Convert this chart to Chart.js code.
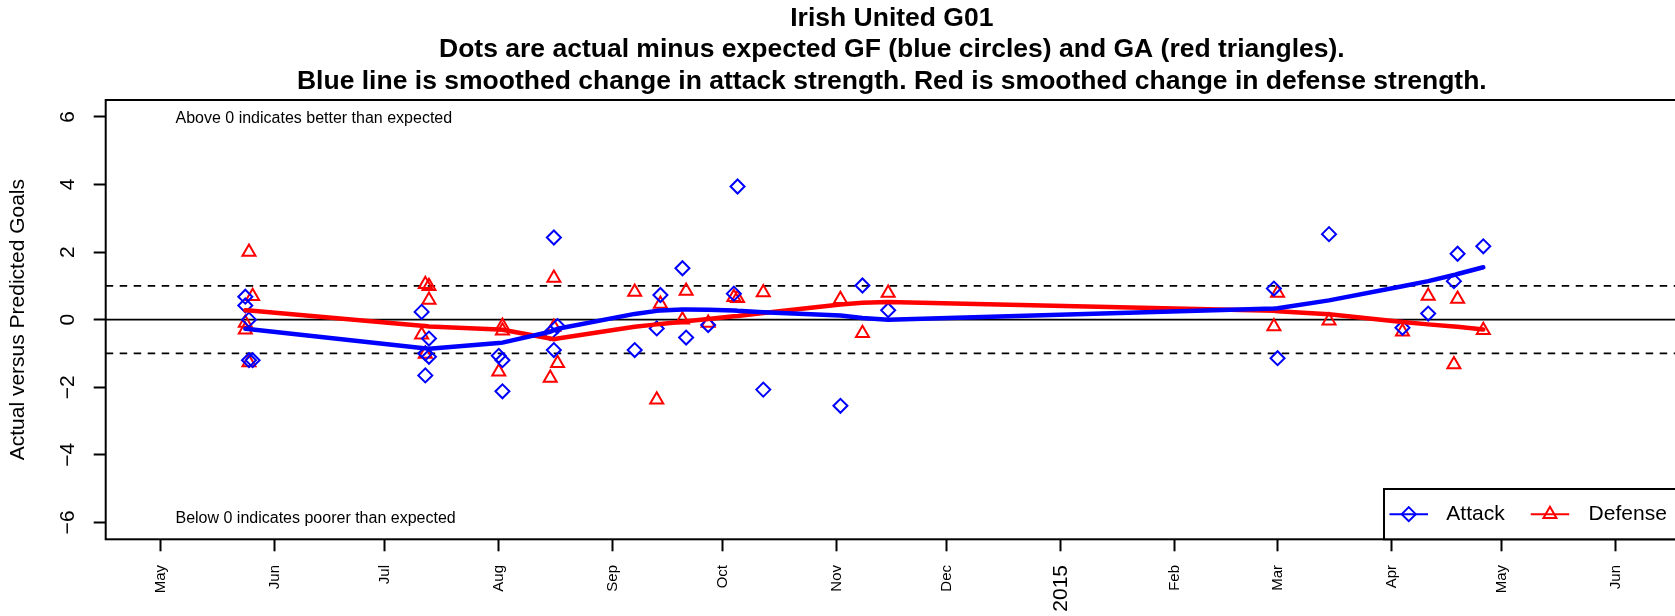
<!DOCTYPE html>
<html>
<head>
<meta charset="utf-8">
<title>Irish United G01</title>
<script src="https://cdn.jsdelivr.net/npm/chart.js@4.4.1/dist/chart.umd.min.js"></script>
<style>
  html, body { margin:0; padding:0; background:#fff; overflow:hidden; }
  #wrap { width:1690px; height:616px; }
</style>
</head>
<body>
<div id="wrap"><canvas id="chart" width="1690" height="616"></canvas></div>
<script>
const FONT = '"Liberation Sans", Arial, Helvetica, sans-serif';

const titleLines = [
  'Irish United G01',
  'Dots are actual minus expected GF (blue circles) and GA (red triangles).',
  'Blue line is smoothed change in attack strength. Red is smoothed change in defense strength.'
];

// one entry per game
const gameDates = [
  '2014-05-24','2014-05-24','2014-05-25','2014-05-25','2014-05-26',
  '2014-07-11','2014-07-12','2014-07-12','2014-07-13','2014-07-13',
  '2014-08-01','2014-08-02','2014-08-02',
  '2014-08-15','2014-08-16','2014-08-16','2014-08-17',
  '2014-09-07','2014-09-13','2014-09-14','2014-09-20','2014-09-21','2014-09-27',
  '2014-10-04','2014-10-05','2014-10-12',
  '2014-11-02','2014-11-08','2014-11-15',
  '2015-02-28','2015-03-01','2015-03-15',
  '2015-04-04','2015-04-11','2015-04-18','2015-04-19','2015-04-26'
];
const attackDiff = [
  0.68, 0.42, 0.00, -1.20, -1.20,
  0.23, -1.00, -1.65, -0.56, -1.10,
  -1.07, -1.20, -2.12,
  -0.40, 2.43, -0.90, -0.19,
  -0.90, -0.26, 0.73, 1.52, -0.53, -0.16,
  0.77, 3.94, -2.07,
  -2.55, 1.01, 0.28,
  0.92, -1.14, 2.53,
  -0.24, 0.18, 1.14, 1.95, 2.17
];
const defenseDiff = [
  -0.30, -0.10, 2.00, -1.27, 0.69,
  -0.45, 1.05, -1.02, 0.99, 0.58,
  -1.54, -0.19, -0.33,
  -1.73, 1.23, -0.22, -1.29,
  0.82, -2.37, 0.46, 0.00, 0.85, -0.10,
  0.66, 0.63, 0.80,
  0.60, -0.40, 0.79,
  -0.20, 0.79, -0.03,
  -0.36, 0.70, -1.33, 0.61, -0.31
];
const attackSmooth = [
  -0.27, -0.27, -0.28, -0.28, -0.29,
  -0.84, -0.85, -0.85, -0.86, -0.86,
  -0.69, -0.68, -0.68,
  -0.36, -0.31, -0.31, -0.27,
  0.17, 0.26, 0.27, 0.30, 0.30, 0.29,
  0.27, 0.26, 0.22,
  0.12, 0.05, 0.00,
  0.33, 0.34, 0.57,
  0.99, 1.14, 1.32, 1.35, 1.55
];
const defenseSmooth = [
  0.28, 0.28, 0.27, 0.27, 0.26,
  -0.18, -0.19, -0.19, -0.20, -0.20,
  -0.29, -0.30, -0.30,
  -0.56, -0.58, -0.58, -0.56,
  -0.21, -0.14, -0.13, -0.06, -0.05, 0.02,
  0.10, 0.11, 0.20,
  0.45, 0.50, 0.52,
  0.26, 0.25, 0.16,
  -0.07, -0.14, -0.20, -0.21, -0.29
];

const xLimits = ['2014-04-16', '2015-06-18'];
const monthTicks = [
  '2014-05-01','2014-06-01','2014-07-01','2014-08-01','2014-09-01','2014-10-01','2014-11-01',
  '2014-12-01','2015-01-01','2015-02-01','2015-03-01','2015-04-01','2015-05-01','2015-06-01'
];
const monthLabels = ['May','Jun','Jul','Aug','Sep','Oct','Nov','Dec','2015','Feb','Mar','Apr','May','Jun'];
const yTicks = [-6, -4, -2, 0, 2, 4, 6];
const refLines = [0, 1, -1];
const notes = [
  { text:'Above 0 indicates better than expected', date:'2014-05-05', y:5.94 },
  { text:'Below 0 indicates poorer than expected', date:'2014-05-05', y:-5.9 }
];

function dayOf(s){ const [y,m,d] = s.split('-').map(Number); return Date.UTC(y, m-1, d) / 864e5; }
function pts(vals){ return gameDates.map((d,i)=>({ x: dayOf(d), y: vals[i] })); }

Chart.defaults.color = '#000';
Chart.defaults.font.family = FONT;

const axisGrid = { drawOnChartArea:false, drawTicks:true, tickLength:12, tickWidth:2, tickColor:'#000', color:'#000' };

function marker(ctx, style, r, color, x, y){
  ctx.save();
  ctx.strokeStyle = color; ctx.fillStyle = 'rgba(0,0,0,0)'; ctx.lineWidth = 2;
  Chart.helpers.drawPoint(ctx, { pointStyle:style, radius:r, rotation:0, borderWidth:2 }, x, y);
  ctx.restore();
}

const decor = {
  id:'decor',
  beforeDatasetsDraw(chart){
    const { ctx, chartArea:a, scales:{ y } } = chart;
    ctx.save();
    ctx.strokeStyle = '#000'; ctx.lineWidth = 1.8;
    refLines.forEach(v=>{
      ctx.setLineDash(v === 0 ? [] : [7.5, 6.5]);
      const py = y.getPixelForValue(v);
      ctx.beginPath(); ctx.moveTo(a.left, py); ctx.lineTo(a.right, py); ctx.stroke();
    });
    ctx.restore();
  },
  afterDraw(chart){
    const { ctx, chartArea:a, scales:{ x, y } } = chart;
    ctx.save();
    ctx.strokeStyle = '#000'; ctx.lineWidth = 2;
    ctx.strokeRect(a.left, a.top, a.right - a.left, a.bottom - a.top);

    ctx.fillStyle = '#000'; ctx.font = '16px ' + FONT;
    ctx.textAlign = 'left'; ctx.textBaseline = 'middle';
    notes.forEach(n => ctx.fillText(n.text, x.getPixelForValue(dayOf(n.date)), y.getPixelForValue(n.y)));

    // legend, bottom right inside the plot
    const bw = 294, bh = 50.3, bx = a.right - bw, by = a.bottom - bh, my = by + bh / 2;
    ctx.fillStyle = '#fff'; ctx.fillRect(bx, by, bw, bh);
    ctx.strokeRect(bx, by, bw, bh);
    const items = [
      { label:'Attack', color:'#0000ff', style:'rectRot', r:7, x0:5.5, text:62.3 },
      { label:'Defense', color:'#ff0000', style:'triangle', r:7.5, x0:146.7, text:204.6 }
    ];
    ctx.font = '21px ' + FONT;
    items.forEach(it=>{
      ctx.strokeStyle = it.color; ctx.lineWidth = 2;
      ctx.beginPath(); ctx.moveTo(bx + it.x0, my); ctx.lineTo(bx + it.x0 + 38.5, my); ctx.stroke();
      marker(ctx, it.style, it.r, it.color, bx + it.x0 + 19.25, my);
      ctx.fillStyle = '#000';
      ctx.fillText(it.label, bx + it.text, my);
    });
    ctx.restore();
  }
};

new Chart(document.getElementById('chart'), {
  type:'scatter',
  data:{ datasets:[
    { label:'Attack smooth', data:pts(attackSmooth), showLine:true, borderColor:'#0000ff', borderWidth:4.5,
      borderCapStyle:'round', borderJoinStyle:'round', pointRadius:0, order:0 },
    { label:'Defense smooth', data:pts(defenseSmooth), showLine:true, borderColor:'#ff0000', borderWidth:4.5,
      borderCapStyle:'round', borderJoinStyle:'round', pointRadius:0, order:1 },
    { label:'Attack', data:pts(attackDiff), pointStyle:'rectRot', pointRadius:7, pointBorderWidth:2,
      pointBorderColor:'#0000ff', pointBackgroundColor:'rgba(0,0,0,0)', order:2 },
    { label:'Defense', data:pts(defenseDiff), pointStyle:'triangle', pointRadius:7.5, pointBorderWidth:2,
      pointBorderColor:'#ff0000', pointBackgroundColor:'rgba(0,0,0,0)', order:3 }
  ]},
  options:{
    responsive:false, animation:false, events:[],
    layout:{ padding:{ left:0, right:12, top:0, bottom:0 } },
    plugins:{
      legend:{ display:false }, tooltip:{ enabled:false },
      title:{ display:true, text:titleLines, fullSize:false, color:'#000',
        font:{ family:FONT, size:26.5, weight:'bold', lineHeight:1.2 }, padding:{ top:2.4, bottom:2.2 } }
    },
    scales:{
      x:{ type:'linear', min:dayOf(xLimits[0]), max:dayOf(xLimits[1]),
        afterBuildTicks: s => { s.ticks = monthTicks.map(d => ({ value: dayOf(d) })); },
        afterFit: s => { s.height = 76.7; },
        grid:axisGrid, border:{ display:false },
        ticks:{ autoSkip:false, minRotation:90, maxRotation:90, padding:13.7, color:'#000',
          font: c => ({ family:FONT, size: monthLabels[c.index] === '2015' ? 21 : 15 }),
          callback: (v, i) => monthLabels[i] } },
      y:{ type:'linear', min:-6.5, max:6.5,
        afterBuildTicks: s => { s.ticks = yTicks.map(v => ({ value:v })); },
        afterFit: s => { s.width = 105.7; },
        grid:axisGrid, border:{ display:false },
        ticks:{ minRotation:90, maxRotation:90, crossAlign:'center', padding:13.7, color:'#000',
          font:{ family:FONT, size:21 },
          callback: v => v < 0 ? '\u2212' + Math.abs(v) : String(v) },
        title:{ display:true, text:'Actual versus Predicted Goals', color:'#000',
          font:{ family:FONT, size:21 }, padding:{ top:5.4, bottom:0 } } }
    }
  },
  plugins:[decor]
});
</script>
</body>
</html>
